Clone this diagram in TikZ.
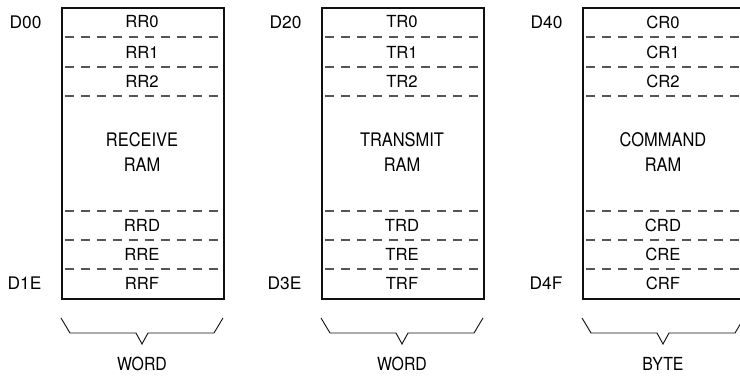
\documentclass[tikz,border=0pt]{standalone}
\usepackage{fontspec}
\setmainfont{TeX Gyre Heros}
\newfontfamily\narrowfont{TeX Gyre Heros}[FakeStretch=0.88]
\usepackage{xcolor}
\usepackage{tikz}
\usetikzlibrary{positioning}
\definecolor{frame}{HTML}{111111}
\definecolor{divider}{HTML}{555555}

\begin{document}
\begin{tikzpicture}[x=0.75pt, y=-0.75pt,
    ramblock/.style={draw=frame, line width=1.4pt, rectangle, minimum width=121.5pt, minimum height=218.25pt, anchor=north west, inner sep=0pt},
    rowsep/.style={draw=divider, line width=1pt, dash pattern=on 6.75pt off 5.25pt, dash phase=9pt},
    regname/.style={font=\fontsize{12.5}{15}\selectfont, inner sep=1pt},
    addrname/.style={font=\fontsize{13}{15}\selectfont, anchor=east, inner sep=1pt},
    ramname/.style={font=\narrowfont\fontsize{14}{18.75}\selectfont, align=center, inner sep=1pt},
    bracket/.style={draw=frame, line width=0.7pt},
    unitname/.style={font=\narrowfont\fontsize{13.5}{16}\selectfont, inner sep=1pt}]
    \useasboundingbox (0,0) rectangle (740,377);

    % Blocks
    \foreach \bx/\pre/\nm/\addrA/\addrB/\unit [count=\i] in {61/RR/RECEIVE/D00/D1E/WORD, 321/TR/TRANSMIT/D20/D3E/WORD, 582/CR/COMMAND/D40/D4F/BYTE} {
        \node [ramblock] (block\i) at (\bx,7) {};

        % dividers
        \foreach \ry in {37, 67, 96, 211, 240, 269}
            \draw [rowsep] (\bx,\ry) -- ++(162,0);

        % registers
        \node [regname] (r0\i) at (\bx+81,22) {\pre0};
        \node [regname] (r1\i) at (\bx+81,52) {\pre1};
        \node [regname] (r2\i) at (\bx+81,81.5) {\pre2};
        \node [ramname] (mid\i) at (\bx+81,152) {\nm\\RAM};
        \node [regname] (rd\i) at (\bx+81,225.5) {\pre D};
        \node [regname] (re\i) at (\bx+81,254.5) {\pre E};
        \node [regname] (rf\i) at (\bx+81,283.5) {\pre F};

        % addresses
        \node [addrname] (first\i) at (\bx-18,22) {\addrA};
        \node [addrname] (last\i) at (\bx-18,283.5) {\addrB};

        % width brace
        \draw [bracket] (\bx,318) -- ++(9,15) -- (\bx+75,333) -- (\bx+81,344) -- (\bx+87,333) -- (\bx+153,333) -- (\bx+162,318);
        \node [unitname] (unit\i) at (\bx+81,364) {\unit};
    }
\end{tikzpicture}
\end{document}
